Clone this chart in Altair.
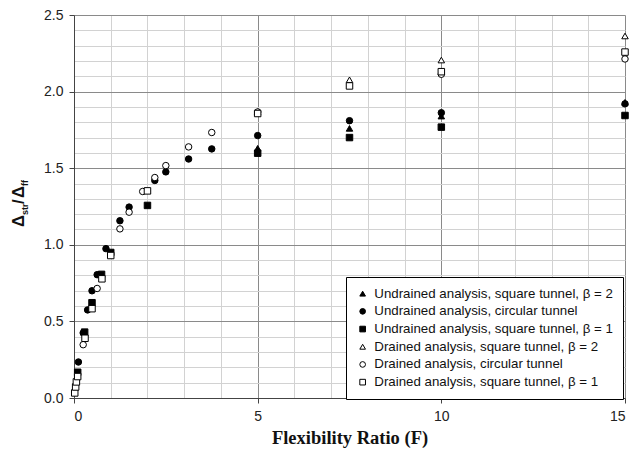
import altair as alt
import pandas as pd

series = [
    "Undrained analysis, square tunnel, β = 2",
    "Undrained analysis, circular tunnel",
    "Undrained analysis, square tunnel, β = 1",
    "Drained analysis, square tunnel, β = 2",
    "Drained analysis, circular tunnel",
    "Drained analysis, square tunnel, β = 1",
]
shapes = ["triangle-up", "circle", "square", "triangle-up", "circle", "square"]
fills = ["black", "black", "black", "white", "white", "white"]
strokes = ["black"] * 6

F_und_tri = [5, 7.5, 10, 15]
R_und_tri = [1.63, 1.76, 1.84, 1.93]
F_und_circ = [0.12, 0.25, 0.37, 0.49, 0.63, 0.87, 1.25, 1.5, 2.2, 2.5, 3.12, 3.75, 5, 7.5, 10, 15]
R_und_circ = [0.235, 0.425, 0.575, 0.70, 0.805, 0.975, 1.157, 1.246, 1.42, 1.476, 1.56, 1.626, 1.713, 1.81, 1.862, 1.92]
F_und_sq = [0.1, 0.29, 0.49, 0.75, 1.0, 2.0, 5, 7.5, 10, 15]
R_und_sq = [0.168, 0.43, 0.622, 0.807, 0.95, 1.257, 1.598, 1.70, 1.768, 1.844]
F_dr_tri = [5, 7.5, 10, 15]
R_dr_tri = [1.87, 2.077, 2.206, 2.363]
F_dr_circ = [0.25, 0.63, 1.25, 1.5, 1.87, 2.2, 2.5, 3.12, 3.75, 5, 10, 15]
R_dr_circ = [0.348, 0.715, 1.104, 1.213, 1.348, 1.439, 1.517, 1.639, 1.733, 1.867, 2.113, 2.213]
F_dr_sq = [0.02, 0.045, 0.065, 0.1, 0.3, 0.49, 0.76, 1.0, 2.0, 5, 7.5, 10, 15]
R_dr_sq = [0.033, 0.072, 0.105, 0.14, 0.39, 0.583, 0.778, 0.93, 1.352, 1.857, 2.037, 2.13, 2.258]

x_ticks = list(range(16))
y_ticks = [round(i * 0.1, 1) for i in range(26)]

Fs = [F_und_tri, F_und_circ, F_und_sq, F_dr_tri, F_dr_circ, F_dr_sq]
Rs = [R_und_tri, R_und_circ, R_und_sq, R_dr_tri, R_dr_circ, R_dr_sq]
rows = []
for k, (name, F, R) in enumerate(zip(series, Fs, Rs)):
    for f, r in zip(F, R):
        rows.append({"series": name, "F": f, "R": r, "order": k})
df = pd.DataFrame(rows)

W, H = 551, 383

legend_kw = dict(
    title=None, orient="none", legendX=272, legendY=262, direction="vertical",
    strokeColor="black", fillColor="white", padding=10, symbolSize=32,
    symbolStrokeWidth=1, labelFont="Liberation Sans",
    labelFontSize=13.3, labelColor="#111111", rowPadding=3.7, labelOffset=5,
    labelLimit=400, cornerRadius=0,
)

x_axis = alt.Axis(
    values=x_ticks,
    labelExpr="datum.value % 5 === 0 ? datum.label : ''",
    grid=True,
    gridColor={"condition": {"test": "datum.value % 5 === 0", "value": "#8a8a8a"}, "value": "#d2d2d2"},
    tickOpacity={"condition": {"test": "datum.value % 5 === 0", "value": 1}, "value": 0},
    tickSize=5, tickColor="#444444",
    domainColor="#444444",
    labelFont="Liberation Sans", labelFontSize=14, labelColor="#222222", labelPadding=6,
    title="Flexibility Ratio (F)", titleFont="Liberation Serif", titleFontSize=18.5,
    titleFontWeight="bold", titleColor="#111111", titlePadding=5,
)
y_axis = alt.Axis(
    values=y_ticks,
    labelExpr="(round(datum.value * 10) % 5 === 0) ? format(datum.value, '.1f') : ''",
    grid=True,
    gridColor={"condition": {"test": "round(datum.value * 10) % 5 === 0", "value": "#8a8a8a"}, "value": "#d2d2d2"},
    tickOpacity={"condition": {"test": "round(datum.value * 10) % 5 === 0", "value": 1}, "value": 0},
    tickSize=5, tickColor="#444444",
    domainColor="#444444",
    labelFont="Liberation Sans", labelFontSize=14, labelColor="#222222", labelPadding=6,
    title=None,
)

points = alt.Chart(df).mark_point(filled=False, strokeWidth=1, size=42, opacity=1, fillOpacity=1).encode(
    x=alt.X("F:Q", scale=alt.Scale(domain=[0, 15], nice=False, zero=False), axis=x_axis),
    y=alt.Y("R:Q", scale=alt.Scale(domain=[0, 2.5], nice=False, zero=False), axis=y_axis),
    shape=alt.Shape("series:N", scale=alt.Scale(domain=series, range=shapes), legend=alt.Legend(**legend_kw)),
    fill=alt.Fill("series:N", scale=alt.Scale(domain=series, range=fills), legend=alt.Legend(**legend_kw)),
    stroke=alt.Stroke("series:N", scale=alt.Scale(domain=series, range=strokes), legend=alt.Legend(**legend_kw)),
    order=alt.Order("order:Q"),
)

one = pd.DataFrame({"a": [0]})
title_parts = [
    ("Δ", 16.5, -50, 212),
    ("str", 9, -46, 200),
    ("/", 16.5, -50, 189),
    ("Δ", 16.5, -50, 183),
    ("ff", 9, -46, 171),
]
layers = [points]
for txt, fs, px, py in title_parts:
    layers.append(
        alt.Chart(one).mark_text(
            text=txt, font="Liberation Sans", fontSize=fs, fontWeight="bold",
            angle=270, align="left", baseline="alphabetic", color="#111111",
        ).encode(x=alt.value(px), y=alt.value(py))
    )

chart = alt.layer(*layers).properties(
    width=W, height=H,
    autosize=alt.AutoSizeParams(type="none"),
    padding={"left": 74, "top": 15, "right": 7, "bottom": 57},
    background="white",
).configure_view(stroke=None)

chart.save("out.html", embed_options={"renderer": "svg", "actions": False})
